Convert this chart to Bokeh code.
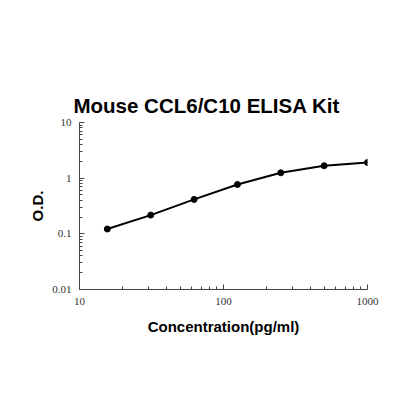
from bokeh.plotting import figure
from bokeh.embed import file_html
from bokeh.resources import INLINE
from bokeh.models import FixedTicker

title_text = "Mouse CCL6/C10 ELISA Kit"
x_label = "Concentration(pg/ml)"
y_label = "O.D."

concentration = [15.6, 31.25, 62.5, 125, 250, 500, 1000]
od = [0.122, 0.217, 0.415, 0.77, 1.25, 1.67, 1.91]

x_ticks = [10, 100, 1000]
x_tick_labels = ["10", "100", "1000"]
x_minor_ticks = [20, 30, 40, 50, 60, 70, 80, 90, 200, 300, 400, 500, 600, 700, 800, 900]
y_ticks = [0.01, 0.1, 1, 10]
y_tick_labels = ["0.01", "0.1", "1", "10"]
y_minor_ticks = [0.02, 0.03, 0.04, 0.05, 0.06, 0.07, 0.08, 0.09,
                 0.2, 0.3, 0.4, 0.5, 0.6, 0.7, 0.8, 0.9,
                 2, 3, 4, 5, 6, 7, 8, 9]

p = figure(width=400, height=400, x_axis_type="log", y_axis_type="log",
           x_range=(10, 1000), y_range=(0.01, 10),
           output_backend="svg", toolbar_location=None,
           min_border_left=79, min_border_right=33,
           min_border_top=122, min_border_bottom=111)

p.title.text = title_text
p.title.text_font = "Liberation Sans"
p.title.text_font_style = "bold"
p.title.text_font_size = "20.5px"
p.title.text_color = "black"
p.title.align = "left"
p.title.offset = -6
p.title.standoff = 12

p.grid.visible = False
p.outline_line_color = None
p.background_fill_color = "white"
p.border_fill_color = "white"

p.line(concentration, od, line_color="black", line_width=2)
p.scatter(concentration, od, size=6, color="black")

for ax, ticks, minors, labels in ((p.xaxis[0], x_ticks, x_minor_ticks, x_tick_labels),
                                  (p.yaxis[0], y_ticks, y_minor_ticks, y_tick_labels)):
    ax.ticker = FixedTicker(ticks=ticks, minor_ticks=minors)
    ax.major_label_overrides = {float(t): l for t, l in zip(ticks, labels)}
    ax.axis_line_color = "#444444"
    ax.axis_line_width = 1
    ax.major_tick_in = 5
    ax.major_tick_out = 0
    ax.minor_tick_in = 3
    ax.minor_tick_out = 0
    ax.major_tick_line_color = "#444444"
    ax.minor_tick_line_color = "#444444"
    ax.major_label_text_font = "Liberation Serif"
    ax.major_label_text_font_size = "11px"
    ax.major_label_text_color = "#333333"
    ax.major_label_standoff = 8
    ax.axis_label_text_font = "Liberation Sans"
    ax.axis_label_text_font_style = "bold"
    ax.axis_label_text_font_size = "15px"
    ax.axis_label_text_color = "black"

p.xaxis.axis_label = x_label
p.yaxis.axis_label = y_label
p.xaxis.axis_label_standoff = 10
p.yaxis.axis_label_standoff = 3

open("out.html", "w").write(file_html(p, INLINE))
